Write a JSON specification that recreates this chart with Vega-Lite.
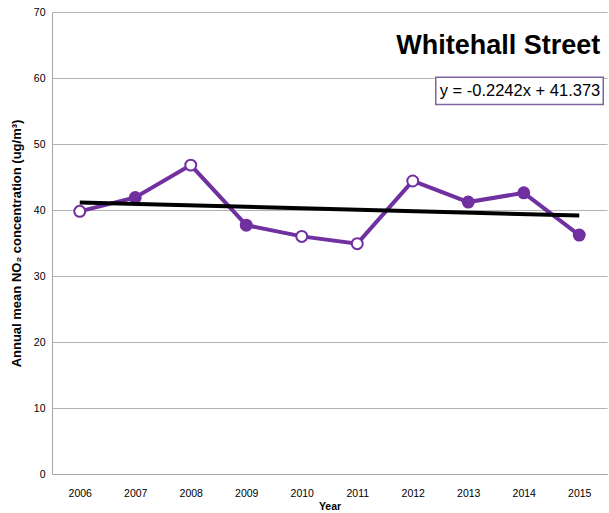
{
  "$schema": "https://vega.github.io/schema/vega-lite/v6.json",
  "autosize": {"type": "fit", "contains": "padding"},
  "width": 609,
  "height": 513,
  "padding": {"left": 10, "top": 7, "right": 2, "bottom": 1},
  "background": "white",
  "config": {
    "view": {"stroke": null},
    "font": "Liberation Sans"
  },
  "data": {
    "values": [
      {"year": 2006, "no2": 39.8, "marker": "open"},
      {"year": 2007, "no2": 41.9, "marker": "filled"},
      {"year": 2008, "no2": 46.8, "marker": "open"},
      {"year": 2009, "no2": 37.7, "marker": "filled"},
      {"year": 2010, "no2": 36.0, "marker": "open"},
      {"year": 2011, "no2": 34.9, "marker": "open"},
      {"year": 2012, "no2": 44.4, "marker": "open"},
      {"year": 2013, "no2": 41.2, "marker": "filled"},
      {"year": 2014, "no2": 42.6, "marker": "filled"},
      {"year": 2015, "no2": 36.2, "marker": "filled"}
    ]
  },
  "encoding": {
    "x": {
      "field": "year",
      "type": "ordinal",
      "scale": {"type": "point", "padding": 0.5},
      "axis": {
        "title": "Year",
        "labelAngle": 0,
        "labelFont": "Liberation Sans",
        "labelFontSize": 10.5,
        "labelColor": "#000000",
        "labelPadding": 14,
        "ticks": false,
        "domainColor": "#a6a6a6",
        "domainWidth": 1,
        "titleFont": "Liberation Sans",
        "titleFontSize": 10.5,
        "titleFontWeight": "bold",
        "titleColor": "#000000",
        "titlePadding": 3
      }
    }
  },
  "layer": [
    {
      "mark": {"type": "line", "color": "#7030a0", "strokeWidth": 4},
      "encoding": {
        "y": {
          "field": "no2",
          "type": "quantitative",
          "scale": {"domain": [0, 70], "nice": false},
          "axis": {
            "title": "Annual mean NO₂ concentration (ug/m³)",
            "values": [0, 10, 20, 30, 40, 50, 60, 70],
            "labelFont": "Liberation Sans",
            "labelFontSize": 10.5,
            "labelColor": "#000000",
            "labelPadding": 7,
            "ticks": false,
            "grid": true,
            "gridColor": "#b3b3b3",
            "gridWidth": 1,
            "domainColor": "#a6a6a6",
            "domainWidth": 1,
            "titleFont": "Liberation Sans",
            "titleFontSize": 13,
            "titleFontWeight": "bold",
            "titleColor": "#000000",
            "titlePadding": 10
          }
        }
      }
    },
    {
      "mark": {"type": "point", "shape": "circle", "size": 120, "strokeWidth": 2, "stroke": "#7030a0", "opacity": 1},
      "encoding": {
        "y": {"field": "no2", "type": "quantitative"},
        "fill": {
          "field": "marker",
          "type": "nominal",
          "scale": {"domain": ["open", "filled"], "range": ["#ffffff", "#7030a0"]},
          "legend": null
        }
      }
    },
    {
      "transform": [{"regression": "no2", "on": "year"}],
      "mark": {"type": "line", "color": "#000000", "strokeWidth": 4},
      "encoding": {
        "y": {"field": "no2", "type": "quantitative"}
      }
    },
    {
      "data": {"values": [{"label": "Whitehall Street", "year": 2015, "pos": 64.8}]},
      "mark": {"type": "text", "align": "right", "baseline": "middle", "dx": 21, "font": "Liberation Sans", "fontSize": 27, "fontWeight": "bold", "color": "#000000"},
      "encoding": {
        "y": {"field": "pos", "type": "quantitative"},
        "text": {"field": "label"}
      }
    },
    {
      "data": {"values": [{"x1": 2012, "x2": 2015, "top": 60.1, "bottom": 56.0}]},
      "mark": {"type": "rect", "fill": "#ffffff", "stroke": "#8064a2", "strokeWidth": 1.5, "xOffset": 23, "x2Offset": 24},
      "encoding": {
        "x": {"field": "x1", "type": "ordinal"},
        "x2": {"field": "x2"},
        "y": {"field": "top", "type": "quantitative"},
        "y2": {"field": "bottom"}
      }
    },
    {
      "data": {"values": [{"label": "y = -0.2242x + 41.373", "year": 2015, "pos": 58.05}]},
      "mark": {"type": "text", "align": "right", "baseline": "middle", "dx": 21, "font": "Liberation Sans", "fontSize": 16.5, "color": "#000000"},
      "encoding": {
        "y": {"field": "pos", "type": "quantitative"},
        "text": {"field": "label"}
      }
    }
  ]
}
